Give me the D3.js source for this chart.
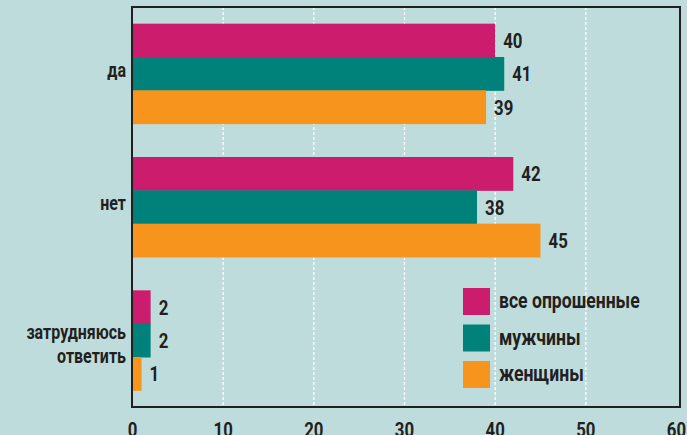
<!DOCTYPE html>
<html>
<head>
<meta charset="utf-8">
<script src="https://cdn.jsdelivr.net/npm/d3@7"></script>
<style>
	body { margin: 0; background: #bedcdc; }
	svg { display: block; }
	text { font-family: Roboto, "DejaVu Sans", sans-serif; font-weight: bold; fill: #231f20; }
</style>
</head>
<body>
<svg id="chart" width="687" height="435"></svg>
<script>
// answers (top to bottom)
var categories = [["да"], ["нет"], ["затрудняюсь", "ответить"]];
var seriesNames = ["все опрошенные", "мужчины", "женщины"];
var seriesColors = ["#cb1c6e", "#00827a", "#f7941d"];
// values per answer, in series order
var allValues = [40, 42, 2];
var menValues = [41, 38, 2];
var womenValues = [39, 45, 1];
var tickValues = [0, 10, 20, 30, 40, 50, 60];

var svg = d3.select('#chart');
var plot = { left: 132, top: 7, right: 680, bottom: 407 };
var squeeze = 0.8; // condensed look

// places a text squeezed horizontally around its anchor point
function label(parent, px, py, anchor, size, txt) {
	return parent.append('text')
		.attr('transform', `translate(${px},${py}) scale(${squeeze},1)`)
		.style('text-anchor', anchor)
		.style('font-size', size + 'px')
		.text(txt);
}

var x = d3.scaleLinear().domain([0, 60]).range([132.5, 676.5]);
var y = d3.scaleBand()
	.domain(d3.range(categories.length))
	.range([plot.top, plot.bottom])
	.paddingInner(0.25)
	.paddingOuter(0.125);
var ySub = d3.scaleBand().domain(d3.range(seriesNames.length)).range([0, y.bandwidth()]);

var series = [allValues, menValues, womenValues];

// dashed grid lines
svg.append('g').selectAll('line')
	.data(tickValues.slice(1, -1))
	.enter()
	.append('line')
	.attr('x1', d => x(d)).attr('x2', d => x(d))
	.attr('y1', plot.top).attr('y2', plot.bottom)
	.style('stroke', '#ffffff')
	.style('stroke-width', 1.3)
	.style('stroke-dasharray', '3,2');

// bars
var groups = svg.append('g').selectAll('g')
	.data(categories)
	.enter()
	.append('g')
	.attr('transform', (d, i) => `translate(0,${y(i)})`);

groups.each(function (cat, ci) {
	var g = d3.select(this);
	series.forEach(function (vals, si) {
		g.append('rect')
			.attr('x', x(0))
			.attr('y', ySub(si))
			.attr('width', x(vals[ci]) - x(0))
			.attr('height', ySub.bandwidth() + 0.5)
			.style('fill', seriesColors[si]);
		label(g, x(vals[ci]) + 8, ySub(si) + ySub.bandwidth() / 2 + 7.5, 'start', 21, vals[ci]);
	});
	// category label
	var mid = y.bandwidth() / 2;
	if (cat.length == 1) {
		label(g, 126, mid + 3, 'end', 20, cat[0]);
	} else {
		label(g, 126, mid - 1, 'end', 20, cat[0]);
		label(g, 126, mid + 23, 'end', 20, cat[1]);
	}
});

// plot frame
svg.append('rect')
	.attr('x', plot.left)
	.attr('y', plot.top)
	.attr('width', plot.right - plot.left)
	.attr('height', plot.bottom - plot.top)
	.style('fill', 'none')
	.style('stroke', '#231f20')
	.style('stroke-width', 2);

// x tick labels
tickValues.forEach(function (t) {
	label(svg, x(t), 437, 'middle', 21, t);
});

// legend
var legend = svg.append('g').attr('transform', 'translate(463,288)');
legend.selectAll('rect')
	.data(seriesNames)
	.enter()
	.append('rect')
	.attr('x', 0)
	.attr('y', (d, i) => i * 36.5)
	.attr('width', 27)
	.attr('height', 27)
	.style('fill', (d, i) => seriesColors[i]);
seriesNames.forEach(function (s, i) {
	label(legend, 36, i * 36.5 + 20, 'start', 22, s);
});
</script>
</body>
</html>
